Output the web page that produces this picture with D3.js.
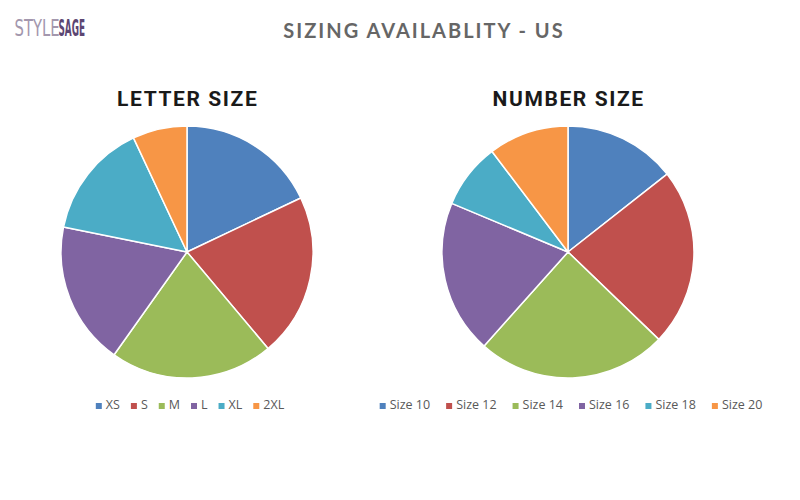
<!DOCTYPE html>
<html><head><meta charset="utf-8">
<script src="https://cdn.jsdelivr.net/npm/d3@7"></script>
<style>body{margin:0;background:#fff}</style>
</head><body>
<svg id="c" width="800" height="500"></svg>
<script>
const letterSizes = ["XS","S","M","L","XL","2XL"];
const letterValues = [18, 21, 21, 18.4, 14.9, 7];
const numberSizes = ["Size 10","Size 12","Size 14","Size 16","Size 18","Size 20"];
const numberValues = [14.4, 22.8, 24.4, 19.7, 8.4, 10.3];
const palette = ["#4F81BD","#C0504D","#9BBB59","#8064A2","#4BACC6","#F79646"];
const mainTitle = "SIZING AVAILABLITY - US";
const pieTitles = ["LETTER SIZE","NUMBER SIZE"];
const logoParts = ["STYLE","SAGE"];

const svg = d3.select("#c");
svg.append("rect").attr("width",800).attr("height",500).attr("fill","#fff");

// logo: each part scaled horizontally to its width in the reference
const logoFont = "'Liberation Sans Narrow','DejaVu Sans Condensed',sans-serif";
function logoPart(txt, x0, width, fill, weight){
  const g = svg.append("g");
  const t = g.append("text").attr("x",0).attr("y",0)
    .attr("font-family",logoFont).attr("font-size",23.5)
    .attr("font-weight",weight).attr("fill",fill).text(txt);
  const w = t.node().getComputedTextLength();
  g.attr("transform",`translate(${x0},35.5) scale(${width/w},1)`);
}
logoPart(logoParts[0], 14.5, 45, "#a397ad", "normal");
logoPart(logoParts[1], 58.5, 26.5, "#5c4672", "bold");

svg.append("text").attr("x",424).attr("y",38).attr("text-anchor","middle")
  .attr("font-family","Lato, 'Open Sans', sans-serif").attr("font-weight","bold")
  .attr("font-size",20).attr("letter-spacing",2).attr("fill","#666666").text(mainTitle);

function drawPie(cx, labels, values, title, gap){
  const g = svg.append("g");
  const cy = 252, r = 126;
  g.append("text").attr("x",cx + 0.7).attr("y",106).attr("text-anchor","middle")
    .attr("font-family","Roboto, Inter, sans-serif").attr("font-weight","bold")
    .attr("font-size",21).attr("letter-spacing",1.6).attr("fill","#1a1a1a").text(title);
  const pie = d3.pie().sort(null).value(d=>d)(values);
  const arc = d3.arc().innerRadius(0).outerRadius(r);
  const color = d3.scaleOrdinal().domain(labels).range(palette);
  g.append("g").attr("transform",`translate(${cx},${cy})`)
    .selectAll("path").data(pie).join("path")
    .attr("d",arc).attr("fill",(d,i)=>color(labels[i]))
    .attr("stroke","#fff").attr("stroke-width",1.5).attr("stroke-linejoin","round");
  // legend
  const lg = g.append("g");
  const items = lg.selectAll("g").data(labels).join("g");
  items.append("rect").attr("width",6).attr("height",6).attr("y",-6)
    .attr("fill",d=>color(d));
  items.append("text").attr("x",10).attr("y",0)
    .attr("font-family","'Open Sans', sans-serif").attr("font-size",12.5)
    .attr("fill","#595959").text(d=>d);
  let x = 0;
  items.each(function(){
    const w = d3.select(this).select("text").node().getComputedTextLength();
    d3.select(this).attr("transform",`translate(${x},0)`);
    x += 10 + w + gap;
  });
  const total = x - gap;
  lg.attr("transform",`translate(${cx + 3 - total/2},409)`);
}
drawPie(187, letterSizes, letterValues, pieTitles[0], 11);
drawPie(568, numberSizes, numberValues, pieTitles[1], 16);
</script>
</body></html>
